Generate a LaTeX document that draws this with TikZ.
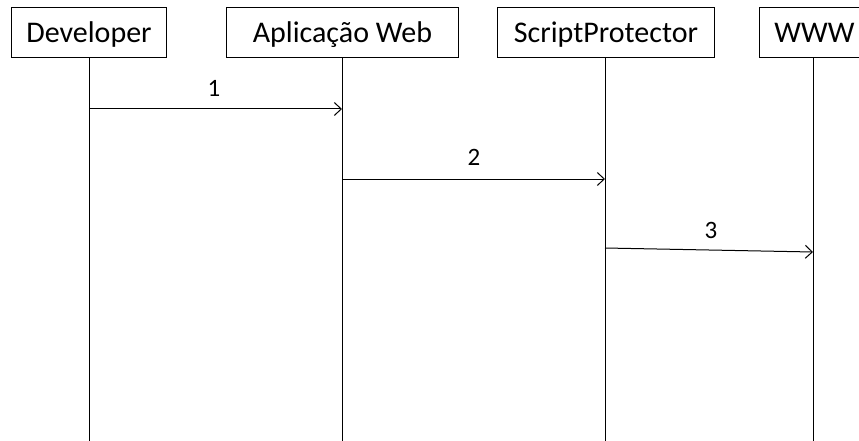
\documentclass[tikz,border=0pt]{standalone}
\usepackage{fontspec}
\setmainfont{Carlito}
\usetikzlibrary{arrows.meta}
\begin{document}
\begin{tikzpicture}[x=1pt,y=-1pt,
  actor/.style={draw=black,line width=1pt,minimum height=50pt,inner sep=0pt,
    text height=22pt,text depth=2pt,font=\fontsize{30}{36}\selectfont,anchor=north west},
  lifeline/.style={draw=black,line width=1pt},
  msg/.style={draw=black,line width=1pt,-{Straight Barb[length=7pt,width=13pt,line width=1pt]}},
  num/.style={font=\fontsize{25}{30}\selectfont}]
\useasboundingbox (0,0) rectangle (859,441);
% participants
\node[actor,minimum width=155pt] (dev) at (11,7) {Developer};
\node[actor,minimum width=232pt] (app) at (226,7) {Aplicação Web};
\node[actor,minimum width=217pt] (sp) at (497,7) {ScriptProtector};
\node[actor,minimum width=110pt] (www) at (759,7) {WWW\hspace{8pt}};
% lifeline ends
\coordinate (devE) at (89,441);
\coordinate (appE) at (342,441);
\coordinate (spE) at (605,441);
\coordinate (wwwE) at (813,441);
\draw[lifeline] (dev.south -| devE) -- (devE);
\draw[lifeline] (app.south -| appE) -- (appE);
\draw[lifeline] (sp.south -| spE) -- (spE);
\draw[lifeline] (www.south -| wwwE) -- (wwwE);
% messages
\coordinate (m1a) at (89,109); \coordinate (m1b) at (342,109);
\coordinate (m2a) at (342,179); \coordinate (m2b) at (605,179);
\coordinate (m3a) at (605,248); \coordinate (m3b) at (813,252);
\draw[msg] (m1a) -- (m1b);
\draw[msg] (m2a) -- (m2b);
\draw[msg] (m3a) -- (m3b);
\node[num] (l1) at (214,88) {1};
\node[num] (l2) at (474,157) {2};
\node[num] (l3) at (711,230) {3};
\end{tikzpicture}
\end{document}
